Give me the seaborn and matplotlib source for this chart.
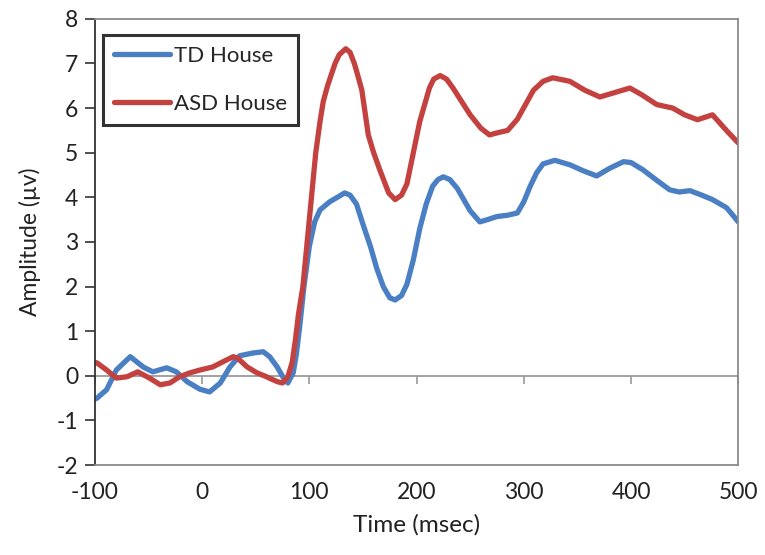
import numpy as np
import pandas as pd
import seaborn as sns
import matplotlib.pyplot as plt

# valori (tempo in msec, ampiezza in microvolt)
td_time = [-100, -98, -89, -80, -67, -55, -46, -33, -24, -14, -2, 7, 17, 26, 35, 47, 57, 63,
           70, 76, 80, 85, 88, 91, 95, 100, 105, 110, 119, 126, 133, 138, 144, 150, 157, 163,
           169, 175, 180, 186, 191, 197, 203, 209, 215, 220, 225, 231, 238, 244, 250, 259, 266,
           275, 285, 294, 300, 306, 312, 318, 329, 343, 355, 368, 380, 393, 400, 411, 423, 436,
           445, 455, 466, 476, 489, 495, 500]
td_amp = [-0.52, -0.5, -0.31, 0.13, 0.43, 0.2, 0.09, 0.18, 0.09, -0.13, -0.3, -0.36, -0.16,
          0.2, 0.45, 0.51, 0.54, 0.43, 0.2, -0.05, -0.16, 0.07, 0.5, 1.1, 2.0, 2.9, 3.45, 3.72,
          3.9, 4.0, 4.1, 4.05, 3.85, 3.4, 2.9, 2.4, 2.0, 1.75, 1.7, 1.8, 2.05, 2.6, 3.3, 3.85,
          4.25, 4.4, 4.46, 4.4, 4.2, 3.95, 3.7, 3.45, 3.5, 3.57, 3.6, 3.65, 3.9, 4.25, 4.55,
          4.75, 4.83, 4.73, 4.6, 4.48, 4.65, 4.8, 4.78, 4.62, 4.4, 4.17, 4.12, 4.15, 4.05, 3.95,
          3.77, 3.6, 3.45]

asd_time = [-100, -98, -89, -80, -70, -60, -49, -39, -30, -21, -11, -2, 10, 19, 29, 33, 42, 51,
            60, 70, 75, 80, 84, 87, 90, 94, 98, 102, 106, 110, 113, 117, 124, 128, 134, 138, 142,
            145, 149, 155, 160, 166, 174, 180, 186, 191, 197, 203, 212, 216, 222, 228, 234, 250,
            260, 268, 276, 285, 294, 309, 318, 327, 343, 357, 371, 385, 399, 410, 424, 439, 450,
            462, 476, 489, 500]
asd_amp = [0.3, 0.29, 0.13, -0.05, -0.02, 0.09, -0.05, -0.2, -0.16, -0.02, 0.07, 0.13, 0.2,
           0.31, 0.43, 0.4, 0.2, 0.07, -0.02, -0.13, -0.16, -0.02, 0.3, 0.8, 1.4, 2.0, 3.0, 4.0,
           5.0, 5.7, 6.15, 6.5, 7.0, 7.2, 7.33, 7.25, 7.0, 6.75, 6.4, 5.4, 5.0, 4.6, 4.1, 3.95,
           4.05, 4.3, 5.0, 5.7, 6.45, 6.65, 6.73, 6.65, 6.45, 5.85, 5.55, 5.4, 5.45, 5.5, 5.75,
           6.4, 6.6, 6.68, 6.6, 6.4, 6.25, 6.35, 6.45, 6.3, 6.08, 6.0, 5.85, 5.74, 5.85, 5.5,
           5.22]

x_ticks = [-100, 0, 100, 200, 300, 400, 500]
y_ticks = list(range(-2, 9))

df = pd.concat([
    pd.DataFrame({"Tempo": td_time, "Ampiezza": td_amp, "Gruppo": "TD House"}),
    pd.DataFrame({"Tempo": asd_time, "Ampiezza": asd_amp, "Gruppo": "ASD House"}),
])

sns.set_style("white")
plt.rcParams['font.family'] = ['Lato', 'DejaVu Sans']
plt.rcParams['axes.unicode_minus'] = False

fig = plt.figure(figsize=(7.65, 5.55), dpi=100)
ax = fig.add_axes([0.124, 0.162, 0.841, 0.804])

sns.lineplot(
    data=df, x="Tempo", y="Ampiezza", hue="Gruppo",
    palette={"TD House": "#4a7fc4", "ASD House": "#c3423f"},
    estimator=None, sort=False, linewidth=3.8, ax=ax,
    solid_joinstyle="round", solid_capstyle="round"
)

ax.set_xlim(-100, 500)
ax.set_ylim(-2, 8)
ax.set_xticks(x_ticks)
ax.set_yticks(y_ticks)
ax.tick_params(axis="x", length=0, pad=12, labelsize=16.5, colors="#222222")
ax.tick_params(axis="y", direction="out", length=7, width=1.2, color="#333333",
               pad=5, labelsize=16.5, labelcolor="#222222", left=True)

# cornice area grafico
for s in ["top", "right", "bottom"]:
    ax.spines[s].set_color("#8a8a8a")
    ax.spines[s].set_linewidth(1.3)
ax.spines["left"].set_color("#333333")
ax.spines["left"].set_linewidth(1.3)

# asse x che passa per lo zero
asse0 = ax.secondary_xaxis(0.2)
asse0.set_xticks(x_ticks)
asse0.tick_params(direction="out", length=6, width=1.2, color="#9a9a9a", labelbottom=False)
asse0.spines["bottom"].set_color("#9a9a9a")
asse0.spines["bottom"].set_linewidth(1.3)

ax.set_xlabel("Time (msec)", fontsize=17.5, color="#222222", labelpad=8)
ax.set_ylabel("Amplitude (\u00b5v)", fontsize=16.5, color="#222222", labelpad=11)

leg = ax.legend(
    loc="upper left", bbox_to_anchor=(0.0124, 0.964), borderaxespad=0, fontsize=16,
    frameon=True, fancybox=False, handlelength=2.5, handletextpad=0.2,
    labelspacing=1.25, borderpad=0.5, title=None
)
leg.get_frame().set_edgecolor("black")
leg.get_frame().set_linewidth(2.2)

fig.savefig("out.png", dpi=100)
